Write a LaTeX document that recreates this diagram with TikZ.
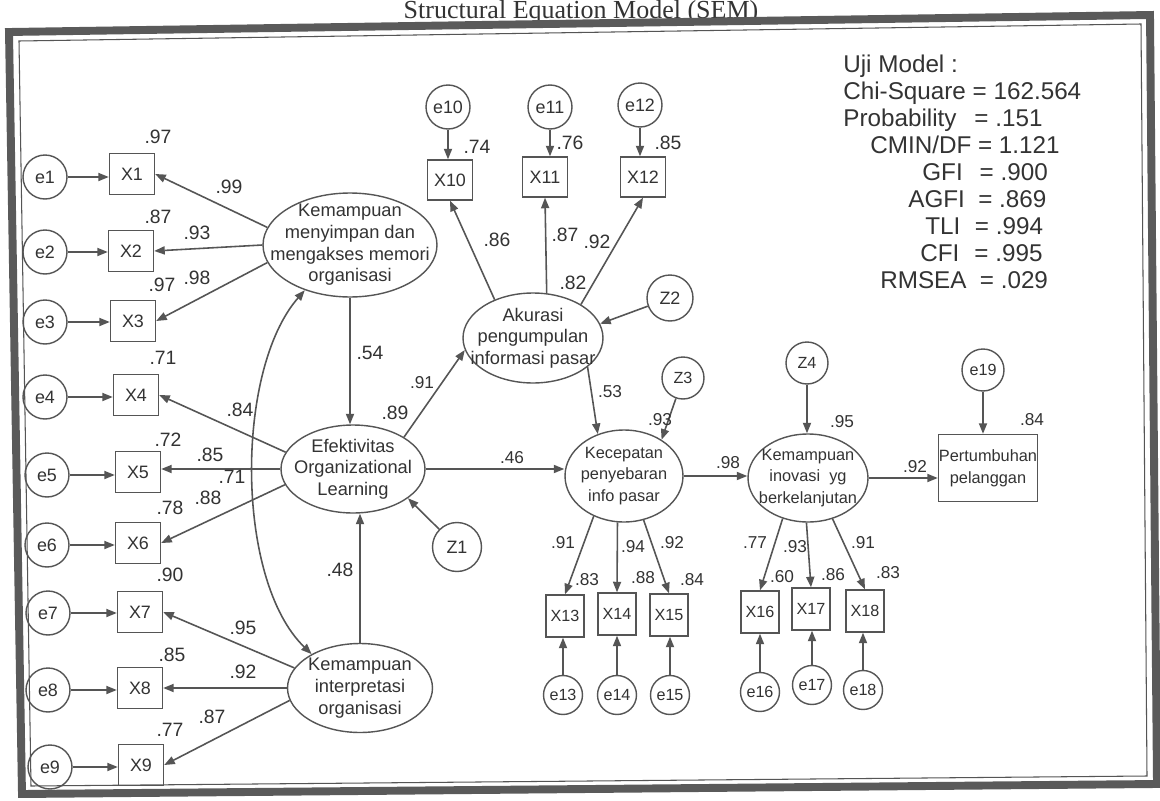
\documentclass[tikz,border=0pt]{standalone}
\usepackage{fontspec}
\setmainfont{Liberation Sans}
\newfontfamily\seriffam{Liberation Serif}
\usetikzlibrary{arrows.meta,shapes.geometric,calc}
\definecolor{ln}{HTML}{555555}
\definecolor{tx}{HTML}{333333}
\definecolor{fr}{HTML}{5A5A5A}
\begin{document}
\begin{tikzpicture}[x=0.02cm,y=-0.02cm,
 conn/.style={draw=ln,line width=0.9pt,-{Triangle[length=6pt,width=4.6pt]}},
 dconn/.style={draw=ln,line width=0.9pt,{Triangle[length=6pt,width=4.6pt]}-{Triangle[length=6pt,width=4.6pt]}},
 obs/.style={draw=ln,line width=0.8pt,rectangle,inner sep=0pt,minimum width=0.9cm,minimum height=0.82cm,text=tx,font=\fontsize{10.2}{12}\selectfont},
 obsr/.style={obs,minimum width=0.76cm,minimum height=0.84cm,font=\fontsize{9.2}{11}\selectfont},
 err/.style={draw=ln,line width=0.8pt,circle,inner sep=0pt,minimum size=0.88cm,text=tx,font=\fontsize{10.2}{12}\selectfont},
 errr/.style={err,minimum size=0.78cm,font=\fontsize{9.2}{11}\selectfont},
 lat/.style={draw=ln,line width=0.8pt,ellipse,inner sep=0pt},
 lt/.style={text=tx,align=center,inner sep=0pt,font=\fontsize{10.4}{12.3}\selectfont},
 ltr/.style={lt,font=\fontsize{9.3}{12.3}\selectfont},
 num/.style={text=tx,inner sep=0pt,font=\fontsize{11}{13}\selectfont},
 numr/.style={num,font=\fontsize{9.8}{12}\selectfont},
 stat/.style={text=tx,inner sep=0pt,anchor=base west,font=\fontsize{13.8}{16}\selectfont},
]
\useasboundingbox (0,0) rectangle (1160,801);
\fill[white] (0,0) rectangle (1160,801);

% title
\node[text=tx,inner sep=0pt,anchor=base,font=\seriffam\fontsize{14.8}{16}\selectfont] (title) at (581,18.5) {Structural Equation Model (SEM)};

% frame
\draw[draw=fr,line width=4.5pt,line join=miter] (9,32) -- (1150,15) -- (1157,784) -- (22,794) -- cycle;
\draw[draw=ln,line width=0.6pt] (19,41) -- (1141,24) -- (1147,776) -- (31,786) -- cycle;

% latent variables
\node[lat,minimum width=3.48cm,minimum height=2.08cm] (m1) at (350,245) {};
\node[lt] (t1) at (m1) {Kemampuan\\menyimpan dan\\mengakses memori\\organisasi};
\node[lat,minimum width=2.88cm,minimum height=1.76cm] (m2) at (353,469) {};
\node[lt] (t2) at (m2) {Efektivitas\\Organizational\\Learning};
\node[lat,minimum width=2.9cm,minimum height=1.78cm] (m3) at (360,688) {};
\node[lt] (t3) at (m3) {Kemampuan\\interpretasi\\organisasi};
\node[lat,minimum width=2.8cm,minimum height=1.8cm] (m4) at (533,338) {};
\node[lt] (t4) at (m4) {Akurasi\\pengumpulan\\informasi pasar};
\node[lat,minimum width=2.36cm,minimum height=1.84cm] (m5) at (624,476) {};
\node[ltr] (t5) at (m5) {Kecepatan\\penyebaran\\info pasar};
\node[lat,minimum width=2.4cm,minimum height=1.76cm] (m6) at (808,478) {};
\node[ltr] (t6) at (m6) {Kemampuan\\inovasi\ \ yg\\berkelanjutan};
\node[obs,minimum width=1.98cm,minimum height=1.34cm,align=center,font=\fontsize{9.3}{12.3}\selectfont] (P) at (988,468) {Pertumbuhan\\pelanggan};

% left indicators
\node[err] (e1) at (45,177) {e1};
\node[err] (e2) at (45,252) {e2};
\node[err] (e3) at (45,322) {e3};
\node[err] (e4) at (45,397) {e4};
\node[err] (e5) at (47,475) {e5};
\node[err] (e6) at (47,545) {e6};
\node[err] (e7) at (48,613) {e7};
\node[err] (e8) at (48,690) {e8};
\node[err] (e9) at (50,767) {e9};
\node[obs] (X1) at (132,174) {X1};
\node[obs] (X2) at (131,251) {X2};
\node[obs] (X3) at (133,321) {X3};
\node[obs] (X4) at (136,395) {X4};
\node[obs] (X5) at (138,472) {X5};
\node[obs] (X6) at (138,543) {X6};
\node[obs] (X7) at (140,612) {X7};
\node[obs] (X8) at (140,688) {X8};
\node[obs] (X9) at (141,765) {X9};
\foreach \i in {1,...,9} \draw[conn] (e\i) -- (e\i -| X\i.west);

% top indicators
\node[err] (e10) at (448,107) {e10};
\node[err] (e11) at (550,107) {e11};
\node[err] (e12) at (640,105) {e12};
\node[obs,minimum height=0.8cm] (X10) at (450,180) {X10};
\node[obs,minimum height=0.8cm] (X11) at (545,177) {X11};
\node[obs,minimum height=0.8cm] (X12) at (643,177) {X12};
\foreach \i in {10,11,12} \draw[conn] (e\i) -- (e\i |- X\i.north);

% bottom indicators
\node[obsr] (X13) at (565,616) {X13};
\node[obsr] (X14) at (617,614) {X14};
\node[obsr] (X15) at (669,615) {X15};
\node[obsr] (X16) at (760,612) {X16};
\node[obsr] (X17) at (811,609) {X17};
\node[obsr] (X18) at (865,611) {X18};
\node[errr] (e13) at (563,695) {e13};
\node[errr] (e14) at (617,695) {e14};
\node[errr] (e15) at (670,695) {e15};
\node[errr] (e16) at (760,692) {e16};
\node[errr] (e17) at (812,685) {e17};
\node[errr] (e18) at (863,690) {e18};
\foreach \i in {13,...,18} \draw[conn] (e\i) -- (e\i |- X\i.south);

% disturbances
\node[err,minimum size=0.98cm] (Z1) at (457,547) {Z1};
\node[err,minimum size=0.92cm] (Z2) at (670,298) {Z2};
\node[errr,minimum size=0.84cm] (Z3) at (683,378) {Z3};
\node[errr,minimum size=0.84cm] (Z4) at (807,363) {Z4};
\node[errr,minimum size=0.84cm] (e19) at (983,370) {e19};

% paths
\draw[conn] (m1.168) -- (X1.east);
\draw[conn] (m1.west) -- (X2.east);
\draw[conn] (m1.192) -- (X3.east);
\draw[dconn] (m1.225) .. controls (235,370) and (235,580) .. (m3.145);
\draw[conn] (m1.south) -- (m1.south |- m2.north);
\draw[conn] (m3.north) -- (m3.north |- m2.south);
\draw[conn] (m2.166) -- (X4.east);
\draw[conn] (m2.west) -- (m2.west -| X5.east);
\draw[conn] (m2.193) -- (X6.east);
\draw[conn] (m3.163) -- (X7.east);
\draw[conn] (m3.west) -- (m3.west -| X8.east);
\draw[conn] (m3.190) -- (X9.east);
\draw[conn] (Z1) -- (m2.-28);
\draw[conn] (m2.32) -- (m4.190);
\draw[conn] (m2.east) -- (m2.east -| m5.west);
\draw[conn] (m4.135) -- (X10.south);
\draw[conn] (m4.73) -- (X11.south);
\draw[conn] (m4.35) -- (X12.south);
\draw[conn] (Z2) -- (m4.12);
\draw[conn] (m4.-28) -- (m5.122);
\draw[conn] (Z3) -- (m5.44);
\draw[conn] (m5.east) -- (m5.east -| m6.west);
\draw[conn] (Z4) -- (Z4 |- m6.north);
\draw[conn] (m6.east) -- (m6.east -| P.west);
\draw[conn] (e19) -- (e19 |- P.north);
\draw[conn] (m5.233) -- (X13.north);
\draw[conn] (m5.262) -- (X14.north);
\draw[conn] (m5.294) -- (X15.north);
\draw[conn] (m6.238) -- (X16.north);
\draw[conn] (m6.268) -- (X17.north);
\draw[conn] (m6.301) -- (X18.north);

% coefficients
\node[num] (n1) at (158,137) {.97};
\node[num] (n2) at (229,187) {.99};
\node[num] (n3) at (158,217) {.87};
\node[num] (n4) at (197,233) {.93};
\node[num] (n5) at (162,285) {.97};
\node[num] (n6) at (197,278) {.98};
\node[num] (n7) at (163,358) {.71};
\node[num] (n8) at (240,410) {.84};
\node[num] (n9) at (168,440) {.72};
\node[num] (n10) at (210,455) {.85};
\node[num] (n11) at (232,477) {.71};
\node[num] (n12) at (208,498) {.88};
\node[num] (n13) at (170,508) {.78};
\node[num] (n14) at (170,575) {.90};
\node[num] (n15) at (243,628) {.95};
\node[num] (n16) at (172,655) {.85};
\node[num] (n17) at (243,672) {.92};
\node[num] (n18) at (170,730) {.77};
\node[num] (n19) at (212,717) {.87};
\node[num] (n20) at (370,353) {.54};
\node[num] (n21) at (340,570) {.48};
\node[num] (n22) at (395,413) {.89};
\node[numr] (n23) at (422,383) {.91};
\node[numr] (n24) at (512,458) {.46};
\node[num] (n25) at (477,147) {.74};
\node[num] (n26) at (570,143) {.76};
\node[num] (n27) at (668,143) {.85};
\node[num] (n28) at (497,240) {.86};
\node[num] (n29) at (565,235) {.87};
\node[num] (n30) at (597,242) {.92};
\node[num] (n31) at (573,283) {.82};
\node[numr] (n32) at (610,392) {.53};
\node[numr] (n33) at (660,420) {.93};
\node[numr] (n34) at (728,463) {.98};
\node[numr] (n35) at (842,422) {.95};
\node[numr] (n36) at (915,467) {.92};
\node[numr] (n37) at (1032,420) {.84};
\node[numr] (n38) at (563,543) {.91};
\node[numr] (n39) at (633,547) {.94};
\node[numr] (n40) at (672,543) {.92};
\node[numr] (n41) at (587,580) {.83};
\node[numr] (n42) at (643,578) {.88};
\node[numr] (n43) at (692,580) {.84};
\node[numr] (n44) at (755,543) {.77};
\node[numr] (n45) at (795,547) {.93};
\node[numr] (n46) at (863,543) {.91};
\node[numr] (n47) at (782,577) {.60};
\node[numr] (n48) at (833,575) {.86};
\node[numr] (n49) at (888,573) {.83};

% model fit
\node[stat] (s1) at (843,72) {Uji Model :};
\node[stat] (s2) at (843,99) {Chi-Square = 162.564};
\node[stat] (s3) at (843,126) {Probability\hspace{0.74em}= .151};
\node[stat] (s4) at (870,153) {CMIN/DF = 1.121};
\node[stat] (s5) at (922,180) {GFI\hspace{0.7em}= .900};
\node[stat] (s6) at (908,207) {AGFI\hspace{0.55em}= .869};
\node[stat] (s7) at (925,234) {TLI\hspace{0.6em}= .994};
\node[stat] (s8) at (920,261) {CFI\hspace{0.62em}= .995};
\node[stat] (s9) at (880,288) {RMSEA\hspace{0.55em}= .029};
\end{tikzpicture}
\end{document}
